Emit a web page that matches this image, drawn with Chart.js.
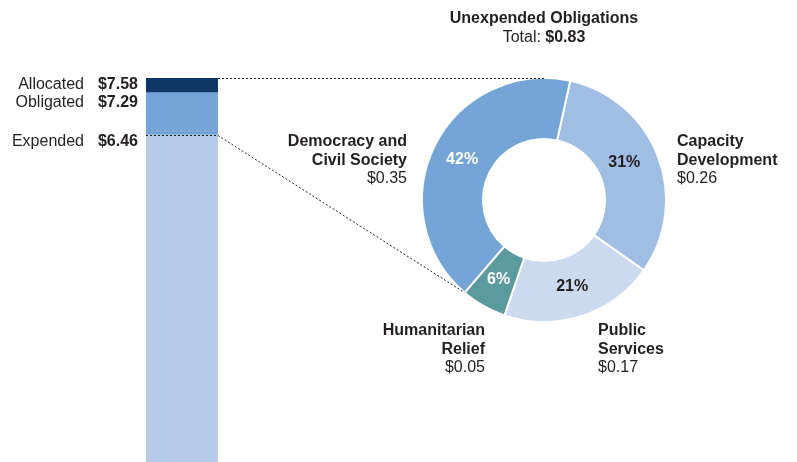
<!DOCTYPE html>
<html>
<head>
<meta charset="utf-8">
<script src="https://cdn.jsdelivr.net/npm/chart.js@4"></script>
<style>
  html, body { margin: 0; padding: 0; background: #fff; }
  #wrap { position: relative; width: 797px; height: 462px; }
  #wrap canvas { position: absolute; left: 0; top: 0; }
</style>
</head>
<body>
<div id="wrap">
  <canvas id="bar-chart" width="797" height="462"></canvas>
  <canvas id="donut-chart" width="797" height="462"></canvas>
</div>
<script>
// Funding stages, cumulative totals ($ billions)
const fundingStages = ['Expended', 'Obligated', 'Allocated'];
const fundingTotals = [6.46, 7.29, 7.58];
const stageColors = ['#b6cbe8', '#74a5d6', '#0e3665'];
// nudges so the stage labels sit beside the top edge of each block
const stageLabelOffsets = [7, 10, 7];

// Unexpended obligations by sector
const sectors = ['Capacity Development', 'Public Services', 'Humanitarian Relief', 'Democracy and Civil Society'];
const sectorLines = [['Capacity', 'Development'], ['Public', 'Services'], ['Humanitarian', 'Relief'], ['Democracy and', 'Civil Society']];
const sectorValues = [0.26, 0.17, 0.05, 0.35];
const sectorPercents = [31, 21, 6, 42];
const sectorColors = ['#a0bde3', '#ccdaf0', '#5b9a9e', '#74a5d6'];
const sectorTextColors = ['#231f20', '#231f20', '#ffffff', '#ffffff'];
const unexpendedTotal = 0.83;

// where each sector's name block sits, and which way it is aligned
const sectorLabelPos = [
    {x: 677, y: 142, align: 'left'},
    {x: 598, y: 331, align: 'left'},
    {x: 485, y: 331, align: 'right'},
    {x: 407, y: 142, align: 'right'}
];

const FONT = '"Liberation Sans", Arial, sans-serif';
const TEXT = '#231f20';

const barLabels = {
    id: 'barLabels',
    afterDraw(chart) {
        const c = chart.ctx;
        c.save();
        c.textBaseline = 'middle';
        c.textAlign = 'right';
        c.fillStyle = TEXT;
        fundingStages.forEach((stage, i) => {
            const bar = chart.getDatasetMeta(i).data[0];
            const y = bar.y + stageLabelOffsets[i];
            c.font = '16px ' + FONT;
            c.fillText(stage, 84, y);
            c.font = 'bold 16px ' + FONT;
            c.fillText('$' + fundingTotals[i].toFixed(2), 138, y);
        });
        c.restore();
    }
};

const barChart = new Chart(document.getElementById('bar-chart'), {
    type: 'bar',
    data: {
        labels: ['Funds'],
        datasets: fundingStages.map((stage, i) => ({
            label: stage,
            data: [[i ? fundingTotals[i - 1] : 0, fundingTotals[i]]],
            backgroundColor: stageColors[i],
            borderWidth: 0,
            borderSkipped: false,
            grouped: false,
            barPercentage: 1,
            categoryPercentage: 1
        }))
    },
    options: {
        responsive: false,
        animation: false,
        layout: { padding: { left: 146, right: 579, top: 78, bottom: 0 } },
        plugins: { legend: { display: false }, tooltip: { enabled: false } },
        scales: {
            x: { display: false },
            y: { display: false, min: 0, max: 7.58 }
        }
    },
    plugins: [barLabels]
});

const donutLabels = {
    id: 'donutLabels',
    afterDraw(chart) {
        const c = chart.ctx;
        const arcs = chart.getDatasetMeta(0).data;
        const cx = arcs[0].x, cy = arcs[0].y, R = arcs[0].outerRadius;

        // dotted leader lines from the bar to the ring
        const alloc = barChart.getDatasetMeta(2).data[0];
        const exp = barChart.getDatasetMeta(0).data[0];
        const right = alloc.x + alloc.width / 2;
        const left = exp.x - exp.width / 2;
        const startA = arcs[3].startAngle;
        const ay = Math.round(alloc.y) + 0.5;
        const ey = Math.round(exp.y) + 0.5;
        c.save();
        c.strokeStyle = '#222';
        c.lineWidth = 1;
        c.setLineDash([2, 2]);
        c.beginPath();
        c.moveTo(right, ay);
        c.lineTo(cx, ay);
        c.stroke();
        c.beginPath();
        c.moveTo(left, ey);
        c.lineTo(right, ey);
        c.lineTo(cx + R * Math.cos(startA), cy + R * Math.sin(startA));
        c.stroke();
        c.restore();

        c.save();
        c.textBaseline = 'middle';

        // percentages inside the ring
        c.textAlign = 'center';
        c.font = 'bold 16px ' + FONT;
        arcs.forEach((arc, i) => {
            const p = arc.tooltipPosition();
            c.fillStyle = sectorTextColors[i];
            c.fillText(sectorPercents[i] + '%', p.x - (i === 0 ? 5 : 0), p.y - (i === 0 ? 4 : 0));
        });

        // title
        c.fillStyle = TEXT;
        c.fillText('Unexpended Obligations', cx, 19);
        c.font = '16px ' + FONT;
        const pre = 'Total: ';
        const wPre = c.measureText(pre).width;
        c.font = 'bold 16px ' + FONT;
        const val = '$' + unexpendedTotal.toFixed(2);
        const wVal = c.measureText(val).width;
        let x0 = cx - (wPre + wVal) / 2;
        c.textAlign = 'left';
        c.font = '16px ' + FONT;
        c.fillText(pre, x0, 38);
        c.font = 'bold 16px ' + FONT;
        c.fillText(val, x0 + wPre, 38);

        // sector names and amounts
        sectorLabelPos.forEach((pos, i) => {
            c.textAlign = pos.align;
            c.font = 'bold 16px ' + FONT;
            c.fillText(sectorLines[i][0], pos.x, pos.y);
            c.fillText(sectorLines[i][1], pos.x, pos.y + 18.5);
            c.font = '16px ' + FONT;
            c.fillText('$' + sectorValues[i].toFixed(2), pos.x, pos.y + 37);
        });
        c.restore();
    }
};

const donutChart = new Chart(document.getElementById('donut-chart'), {
    type: 'doughnut',
    data: {
        labels: sectors,
        datasets: [{
            data: sectorValues,
            backgroundColor: sectorColors,
            borderColor: '#ffffff',
            borderWidth: 2
        }]
    },
    options: {
        responsive: false,
        animation: false,
        rotation: 12.4,
        cutout: '50%',
        radius: 122,
        layout: { padding: { left: 422, right: 131, top: 78, bottom: 140 } },
        plugins: { legend: { display: false }, tooltip: { enabled: false } }
    },
    plugins: [donutLabels]
});
</script>
</body>
</html>
